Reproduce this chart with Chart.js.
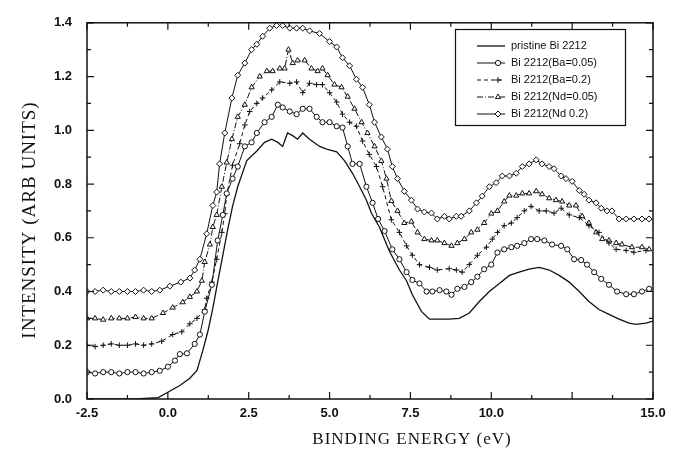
<!DOCTYPE html>
<html><head><meta charset="utf-8">
<script src="https://cdn.jsdelivr.net/npm/chart.js@4"></script>
<style>html,body{margin:0;padding:0;background:#fff}#wrap{width:681px;height:453px}</style>
</head><body><div id="wrap"><canvas id="c" width="681" height="453"></canvas></div>
<script>
// ---- data ----
const seriesNames = ['pristine Bi 2212', 'Bi 2212(Ba=0.05)', 'Bi 2212(Ba=0.2)', 'Bi 2212(Nd=0.05)', 'Bi 2212(Nd 0.2)'];

const pristineX = [-2.5, -1.0, -0.3, 0.0, 0.37, 0.68, 0.9, 1.08, 1.24, 1.39, 1.54, 1.70, 1.85, 2.0, 2.16, 2.44, 2.75, 2.99, 3.21, 3.40, 3.55, 3.70, 3.86, 4.01, 4.17, 4.38, 4.69, 4.91, 5.22, 5.46, 5.71, 5.93, 6.14, 6.30, 6.54, 6.85, 7.16, 7.38, 7.56, 7.84, 8.09, 8.40, 8.70, 9.01, 9.32, 9.63, 9.94, 10.25, 10.56, 10.86, 11.17, 11.48, 11.79, 12.10, 12.41, 12.72, 13.02, 13.33, 13.64, 13.95, 14.26, 14.48, 14.78, 15.0];
const pristineY = [0, 0, 0.005, 0.025, 0.05, 0.077, 0.106, 0.18, 0.253, 0.337, 0.435, 0.535, 0.63, 0.717, 0.79, 0.887, 0.923, 0.955, 0.967, 0.955, 0.94, 0.99, 0.98, 0.967, 0.99, 0.967, 0.94, 0.93, 0.92, 0.887, 0.84, 0.79, 0.74, 0.69, 0.64, 0.55, 0.48, 0.44, 0.388, 0.326, 0.297, 0.297, 0.297, 0.30, 0.32, 0.363, 0.40, 0.43, 0.46, 0.472, 0.483, 0.49, 0.48, 0.46, 0.435, 0.40, 0.363, 0.333, 0.315, 0.297, 0.282, 0.278, 0.282, 0.29];

const ba005X = [-2.5, -2.25, -2.0, -1.75, -1.5, -1.25, -1.0, -0.75, -0.5, -0.25, 0.0, 0.22, 0.37, 0.59, 0.83, 0.99, 1.14, 1.36, 1.54, 1.70, 1.82, 2.0, 2.16, 2.38, 2.59, 2.75, 2.99, 3.21, 3.40, 3.55, 3.77, 3.98, 4.17, 4.38, 4.60, 4.78, 5.0, 5.22, 5.40, 5.56, 5.71, 5.93, 6.14, 6.33, 6.50, 6.70, 6.94, 7.16, 7.38, 7.56, 7.78, 8.0, 8.18, 8.40, 8.61, 8.77, 8.95, 9.17, 9.38, 9.57, 9.78, 10.0, 10.19, 10.40, 10.62, 10.80, 11.02, 11.23, 11.42, 11.64, 11.88, 12.16, 12.35, 12.56, 12.78, 12.96, 13.18, 13.40, 13.64, 13.89, 14.17, 14.41, 14.66, 14.88];
const ba005Y = [0.10, 0.095, 0.10, 0.10, 0.095, 0.10, 0.10, 0.095, 0.10, 0.105, 0.12, 0.143, 0.167, 0.17, 0.205, 0.24, 0.325, 0.425, 0.59, 0.685, 0.765, 0.82, 0.865, 0.94, 0.955, 0.99, 1.03, 1.05, 1.095, 1.085, 1.07, 1.06, 1.08, 1.08, 1.05, 1.03, 1.03, 1.015, 1.01, 0.94, 0.875, 0.875, 0.79, 0.73, 0.67, 0.625, 0.557, 0.52, 0.472, 0.443, 0.43, 0.40, 0.40, 0.405, 0.40, 0.388, 0.41, 0.417, 0.435, 0.455, 0.483, 0.50, 0.545, 0.557, 0.565, 0.57, 0.58, 0.595, 0.595, 0.59, 0.575, 0.57, 0.557, 0.52, 0.517, 0.50, 0.472, 0.447, 0.425, 0.40, 0.39, 0.39, 0.40, 0.41];

const ba02X = [-2.5, -2.25, -2.0, -1.75, -1.5, -1.25, -1.0, -0.75, -0.5, -0.19, 0.15, 0.43, 0.68, 0.9, 1.14, 1.20, 1.36, 1.51, 1.67, 1.76, 1.82, 2.0, 2.22, 2.38, 2.53, 2.75, 2.93, 3.21, 3.46, 3.77, 3.98, 4.17, 4.38, 4.60, 4.78, 5.0, 5.22, 5.40, 5.62, 5.83, 6.02, 6.23, 6.45, 6.64, 6.91, 7.16, 7.38, 7.56, 7.78, 8.09, 8.33, 8.70, 8.92, 9.10, 9.32, 9.57, 9.85, 10.03, 10.19, 10.40, 10.62, 10.80, 11.02, 11.23, 11.48, 11.70, 11.94, 12.16, 12.41, 12.72, 13.02, 13.33, 13.64, 13.86, 14.17, 14.41, 14.78];
const ba02Y = [0.20, 0.195, 0.20, 0.205, 0.20, 0.20, 0.205, 0.20, 0.205, 0.215, 0.24, 0.25, 0.28, 0.30, 0.333, 0.375, 0.435, 0.52, 0.62, 0.69, 0.76, 0.87, 0.95, 1.02, 1.07, 1.10, 1.12, 1.15, 1.18, 1.175, 1.18, 1.14, 1.175, 1.17, 1.17, 1.14, 1.105, 1.06, 1.03, 1.015, 0.96, 0.91, 0.865, 0.79, 0.667, 0.62, 0.57, 0.535, 0.50, 0.49, 0.48, 0.485, 0.48, 0.472, 0.50, 0.535, 0.565, 0.595, 0.62, 0.645, 0.655, 0.675, 0.70, 0.717, 0.70, 0.70, 0.692, 0.71, 0.685, 0.675, 0.645, 0.62, 0.58, 0.557, 0.553, 0.546, 0.553];

const nd005X = [-2.5, -2.25, -2.0, -1.75, -1.5, -1.25, -1.0, -0.75, -0.5, -0.15, 0.15, 0.46, 0.68, 0.9, 1.05, 1.14, 1.30, 1.39, 1.51, 1.67, 1.82, 1.98, 2.16, 2.38, 2.59, 2.84, 3.06, 3.24, 3.46, 3.61, 3.73, 3.86, 4.01, 4.23, 4.44, 4.63, 4.78, 4.94, 5.15, 5.37, 5.56, 5.77, 5.99, 6.17, 6.39, 6.60, 6.76, 6.91, 7.10, 7.31, 7.53, 7.72, 7.93, 8.15, 8.33, 8.55, 8.77, 8.95, 9.17, 9.38, 9.57, 9.78, 10.0, 10.19, 10.40, 10.56, 10.77, 10.96, 11.17, 11.39, 11.57, 11.79, 12.0, 12.19, 12.41, 12.62, 12.81, 13.02, 13.24, 13.43, 13.64, 13.86, 14.04, 14.35, 14.66, 14.88];
const nd005Y = [0.30, 0.30, 0.295, 0.30, 0.30, 0.30, 0.305, 0.30, 0.30, 0.32, 0.34, 0.36, 0.38, 0.40, 0.44, 0.51, 0.575, 0.64, 0.685, 0.79, 0.88, 0.967, 1.05, 1.095, 1.16, 1.20, 1.22, 1.22, 1.23, 1.23, 1.30, 1.25, 1.26, 1.26, 1.23, 1.22, 1.23, 1.205, 1.17, 1.16, 1.125, 1.08, 1.03, 0.99, 0.94, 0.886, 0.82, 0.737, 0.70, 0.655, 0.66, 0.62, 0.595, 0.59, 0.59, 0.58, 0.57, 0.58, 0.595, 0.62, 0.63, 0.655, 0.69, 0.70, 0.735, 0.757, 0.757, 0.765, 0.765, 0.773, 0.762, 0.747, 0.74, 0.735, 0.72, 0.72, 0.68, 0.655, 0.62, 0.595, 0.59, 0.58, 0.575, 0.565, 0.565, 0.557];

const nd02X = [-2.5, -2.25, -2.0, -1.75, -1.5, -1.25, -1.0, -0.75, -0.5, -0.25, 0.06, 0.40, 0.68, 0.83, 0.99, 1.20, 1.39, 1.51, 1.60, 1.76, 1.98, 2.16, 2.38, 2.59, 2.75, 2.93, 3.15, 3.36, 3.55, 3.77, 3.98, 4.17, 4.38, 4.69, 5.0, 5.22, 5.40, 5.62, 5.83, 6.02, 6.23, 6.39, 6.60, 6.79, 6.94, 7.10, 7.31, 7.53, 7.72, 7.93, 8.15, 8.33, 8.55, 8.70, 8.92, 9.07, 9.32, 9.54, 9.72, 9.94, 10.15, 10.34, 10.56, 10.77, 10.96, 11.17, 11.39, 11.57, 11.79, 11.94, 12.16, 12.31, 12.50, 12.72, 12.87, 13.02, 13.24, 13.40, 13.58, 13.73, 13.95, 14.17, 14.41, 14.66, 14.88];
const nd02Y = [0.40, 0.40, 0.405, 0.40, 0.40, 0.40, 0.40, 0.405, 0.40, 0.405, 0.42, 0.435, 0.45, 0.48, 0.52, 0.615, 0.72, 0.77, 0.875, 0.99, 1.12, 1.205, 1.25, 1.30, 1.32, 1.35, 1.38, 1.39, 1.39, 1.38, 1.38, 1.38, 1.37, 1.36, 1.33, 1.31, 1.27, 1.24, 1.19, 1.16, 1.095, 1.03, 0.975, 0.93, 0.865, 0.82, 0.773, 0.74, 0.707, 0.696, 0.692, 0.67, 0.68, 0.67, 0.68, 0.68, 0.70, 0.73, 0.755, 0.79, 0.805, 0.83, 0.83, 0.84, 0.865, 0.875, 0.89, 0.875, 0.865, 0.857, 0.83, 0.82, 0.81, 0.776, 0.762, 0.74, 0.73, 0.71, 0.70, 0.70, 0.67, 0.67, 0.67, 0.67, 0.67];

const xTickValues = [-2.5, 0, 2.5, 5, 7.5, 10, 12.5, 15];
const xTickLabels = ['-2.5', '0.0', '2.5', '5.0', '7.5', '10.0', '', '15.0'];
const yTickValues = [0, 0.2, 0.4, 0.6, 0.8, 1.0, 1.2, 1.4];
const yTickLabels = ['0.0', '0.2', '0.4', '0.6', '0.8', '1.0', '1.2', '1.4'];
const xTitle = 'BINDING ENERGY (eV)';
const yTitle = 'INTENSITY (ARB UNITS)';

// ---- styles ----
const INK = '#111';
const styles = [
  {pointStyle: false, radius: 0, dash: [], width: 1.3},
  {pointStyle: 'circle', radius: 2.6, dash: [], width: 1},
  {pointStyle: 'cross', radius: 2.8, dash: [4, 3], width: 1},
  {pointStyle: 'triangle', radius: 3, dash: [6, 2, 1, 2], width: 1},
  {pointStyle: 'rectRot', radius: 3, dash: [], width: 1}
];
const xs = [pristineX, ba005X, ba02X, nd005X, nd02X];
const ys = [pristineY, ba005Y, ba02Y, nd005Y, nd02Y];

const datasets = seriesNames.map((name, k) => ({
  label: name,
  data: xs[k].map((x, i) => ({x: x, y: ys[k][i]})),
  borderColor: INK,
  borderWidth: styles[k].width,
  borderDash: styles[k].dash,
  pointStyle: styles[k].pointStyle || 'circle',
  pointRadius: styles[k].radius,
  pointBorderWidth: 1,
  pointBorderColor: INK,
  pointBackgroundColor: '#fff',
  tension: 0,
  fill: false
}));

const framePlugin = {
  id: 'frame',
  afterDraw(chart) {
    const ctx = chart.ctx;
    const a = chart.chartArea;
    const xS = chart.scales.x, yS = chart.scales.y;
    ctx.save();
    ctx.strokeStyle = INK;
    ctx.lineWidth = 1.5;
    ctx.setLineDash([]);
    ctx.strokeRect(a.left, a.top, a.right - a.left, a.bottom - a.top);
    ctx.lineWidth = 1.2;
    ctx.beginPath();
    for (let i = 0; i < xTickValues.length; i++) {
      const v = xTickValues[i];
      const p = xS.getPixelForValue(v);
      ctx.moveTo(p, a.bottom); ctx.lineTo(p, a.bottom - 7);
      ctx.moveTo(p, a.top); ctx.lineTo(p, a.top + 7);
      if (i < xTickValues.length - 1) {
        const m = xS.getPixelForValue((v + xTickValues[i + 1]) / 2);
        ctx.moveTo(m, a.bottom); ctx.lineTo(m, a.bottom - 4);
        ctx.moveTo(m, a.top); ctx.lineTo(m, a.top + 4);
      }
    }
    for (let i = 0; i < yTickValues.length; i++) {
      const v = yTickValues[i];
      const p = yS.getPixelForValue(v);
      ctx.moveTo(a.left, p); ctx.lineTo(a.left + 7, p);
      ctx.moveTo(a.right, p); ctx.lineTo(a.right - 7, p);
      if (i < yTickValues.length - 1) {
        const m = yS.getPixelForValue((v + yTickValues[i + 1]) / 2);
        ctx.moveTo(a.left, m); ctx.lineTo(a.left + 4, m);
        ctx.moveTo(a.right, m); ctx.lineTo(a.right - 4, m);
      }
    }
    ctx.stroke();

    // axis titles
    ctx.fillStyle = INK;
    ctx.textAlign = 'center';
    ctx.textBaseline = 'middle';
    ctx.font = '17px "Liberation Serif", "DejaVu Serif", serif';
    try { ctx.letterSpacing = '1px'; } catch (e) {}
    ctx.fillText(xTitle, 412, 440);
    ctx.save();
    ctx.font = '19px "Liberation Serif", "DejaVu Serif", serif';
    ctx.translate(30, 220);
    ctx.rotate(-Math.PI / 2);
    ctx.fillText(yTitle, 0, 0);
    ctx.restore();
    try { ctx.letterSpacing = '0px'; } catch (e) {}

    // legend box
    const bx = 455, by = 29, bw = 170, bh = 96;
    ctx.fillStyle = '#fff';
    ctx.fillRect(bx, by, bw, bh);
    ctx.lineWidth = 1.2;
    ctx.strokeStyle = INK;
    ctx.strokeRect(bx + 0.5, by + 0.5, bw, bh);
    ctx.font = '11px "Liberation Sans", Arial, sans-serif';
    ctx.textAlign = 'left';
    ctx.textBaseline = 'middle';
    for (let k = 0; k < seriesNames.length; k++) {
      const yy = 46 + k * 17;
      ctx.strokeStyle = INK;
      ctx.lineWidth = styles[k].width;
      ctx.setLineDash(styles[k].dash);
      ctx.beginPath();
      ctx.moveTo(477, yy); ctx.lineTo(505, yy);
      ctx.stroke();
      ctx.setLineDash([]);
      if (styles[k].pointStyle) {
        ctx.fillStyle = '#fff';
        ctx.lineWidth = 1;
        Chart.helpers.drawPoint(ctx, {pointStyle: styles[k].pointStyle, radius: styles[k].radius, borderWidth: 1, rotation: 0}, 498, yy);
      }
      ctx.fillStyle = INK;
      ctx.fillText(seriesNames[k], 511, yy);
    }
    ctx.restore();
  }
};

new Chart(document.getElementById('c'), {
  type: 'line',
  data: {datasets: datasets},
  options: {
    responsive: false,
    animation: false,
    devicePixelRatio: 1,
    layout: {padding: {top: 15, right: 28, left: 0, bottom: 0}},
    plugins: {legend: {display: false}, tooltip: {enabled: false}, title: {display: false}},
    scales: {
      x: {
        type: 'linear', min: -2.5, max: 15,
        afterBuildTicks: s => { s.ticks = xTickValues.map(v => ({value: v})); },
        afterFit: s => { s.height = 54; },
        ticks: {
          autoSkip: false, maxRotation: 0, padding: 7, color: INK,
          font: {family: '"Liberation Sans", Arial, sans-serif', size: 13, weight: 'bold'},
          callback: (v, i) => xTickLabels[i]
        },
        grid: {display: false, drawTicks: false},
        border: {display: false}
      },
      y: {
        type: 'linear', min: 0, max: 1.4,
        afterBuildTicks: s => { s.ticks = yTickValues.map(v => ({value: v})); },
        afterFit: s => { s.width = 87; },
        ticks: {
          autoSkip: false, padding: 15, color: INK,
          font: {family: '"Liberation Sans", Arial, sans-serif', size: 13, weight: 'bold'},
          callback: (v, i) => yTickLabels[i]
        },
        grid: {display: false, drawTicks: false},
        border: {display: false}
      }
    }
  },
  plugins: [framePlugin]
});
</script>
</body></html>
